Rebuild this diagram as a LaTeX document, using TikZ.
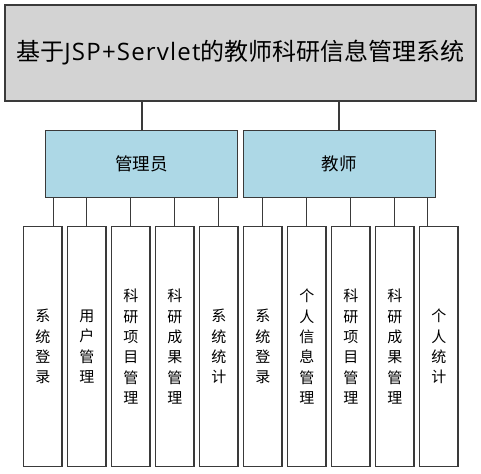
\documentclass[tikz,border=0pt]{standalone}
\usepackage{fontspec}
\newfontfamily\cjk{Noto Sans CJK SC}
\newfontfamily\latinwide[LetterSpace=5]{Open Sans}
\definecolor{bordc}{HTML}{3A3A3A}
\definecolor{topfill}{HTML}{D3D3D3}
\definecolor{midfill}{HTML}{ADD8E6}
\tikzset{
  box/.style={draw=bordc, line width=1.2pt, inner sep=0pt, font=\cjk},
  topbox/.style={box, fill=topfill, minimum width=471pt, minimum height=96pt, font=\cjk\fontsize{24}{26}\selectfont},
  midbox/.style={box, fill=midfill, minimum width=192pt, minimum height=67.5pt, font=\cjk\fontsize{17.5}{20}\selectfont},
  leafbox/.style={box, fill=white, minimum width=38.5pt, minimum height=240pt, align=center, font=\cjk\fontsize{15}{20.3}\selectfont},
  conn/.style={draw=bordc, line width=1.2pt},
}
\begin{document}
\begin{tikzpicture}[x=1pt,y=-1pt]
\useasboundingbox (0,0) rectangle (481,473);
\node[topbox] (top) at (240.5,53) {基于{\latinwide JSP+Servlet}的教师科研信息管理系统};
\node[midbox] (admin) at (141.7,164) {管理员};
\node[midbox] (teacher) at (339.2,164) {教师};
\node[leafbox] (b1) at (42.8,346.7) {系\\统\\登\\录};
\node[leafbox] (b2) at (86.8,346.7) {用\\户\\管\\理};
\node[leafbox] (b3) at (130.8,346.7) {科\\研\\项\\目\\管\\理};
\node[leafbox] (b4) at (174.8,346.7) {科\\研\\成\\果\\管\\理};
\node[leafbox] (b5) at (218.8,346.7) {系\\统\\统\\计};
\node[leafbox] (b6) at (262.8,346.7) {系\\统\\登\\录};
\node[leafbox] (b7) at (306.8,346.7) {个\\人\\信\\息\\管\\理};
\node[leafbox] (b8) at (350.8,346.7) {科\\研\\项\\目\\管\\理};
\node[leafbox] (b9) at (394.8,346.7) {科\\研\\成\\果\\管\\理};
\node[leafbox] (b10) at (438.8,346.7) {个\\人\\统\\计};
\coordinate (t1) at (142,0);
\coordinate (t2) at (339,0);
\draw[conn] (top.south -| t1) -- (admin.north -| t1);
\draw[conn] (top.south -| t2) -- (admin.north -| t2);
\coordinate (c1) at (53.7,0);
\coordinate (c10) at (427.7,0);
\draw[conn] (admin.south -| c1) -- (b1.north -| c1);
\draw[conn] (admin.south -| b2) -- (b2.north);
\draw[conn] (admin.south -| b3) -- (b3.north);
\draw[conn] (admin.south -| b4) -- (b4.north);
\draw[conn] (admin.south -| b5) -- (b5.north);
\draw[conn] (teacher.south -| b6) -- (b6.north);
\draw[conn] (teacher.south -| b7) -- (b7.north);
\draw[conn] (teacher.south -| b8) -- (b8.north);
\draw[conn] (teacher.south -| b9) -- (b9.north);
\draw[conn] (teacher.south -| c10) -- (b10.north -| c10);
\end{tikzpicture}
\end{document}
